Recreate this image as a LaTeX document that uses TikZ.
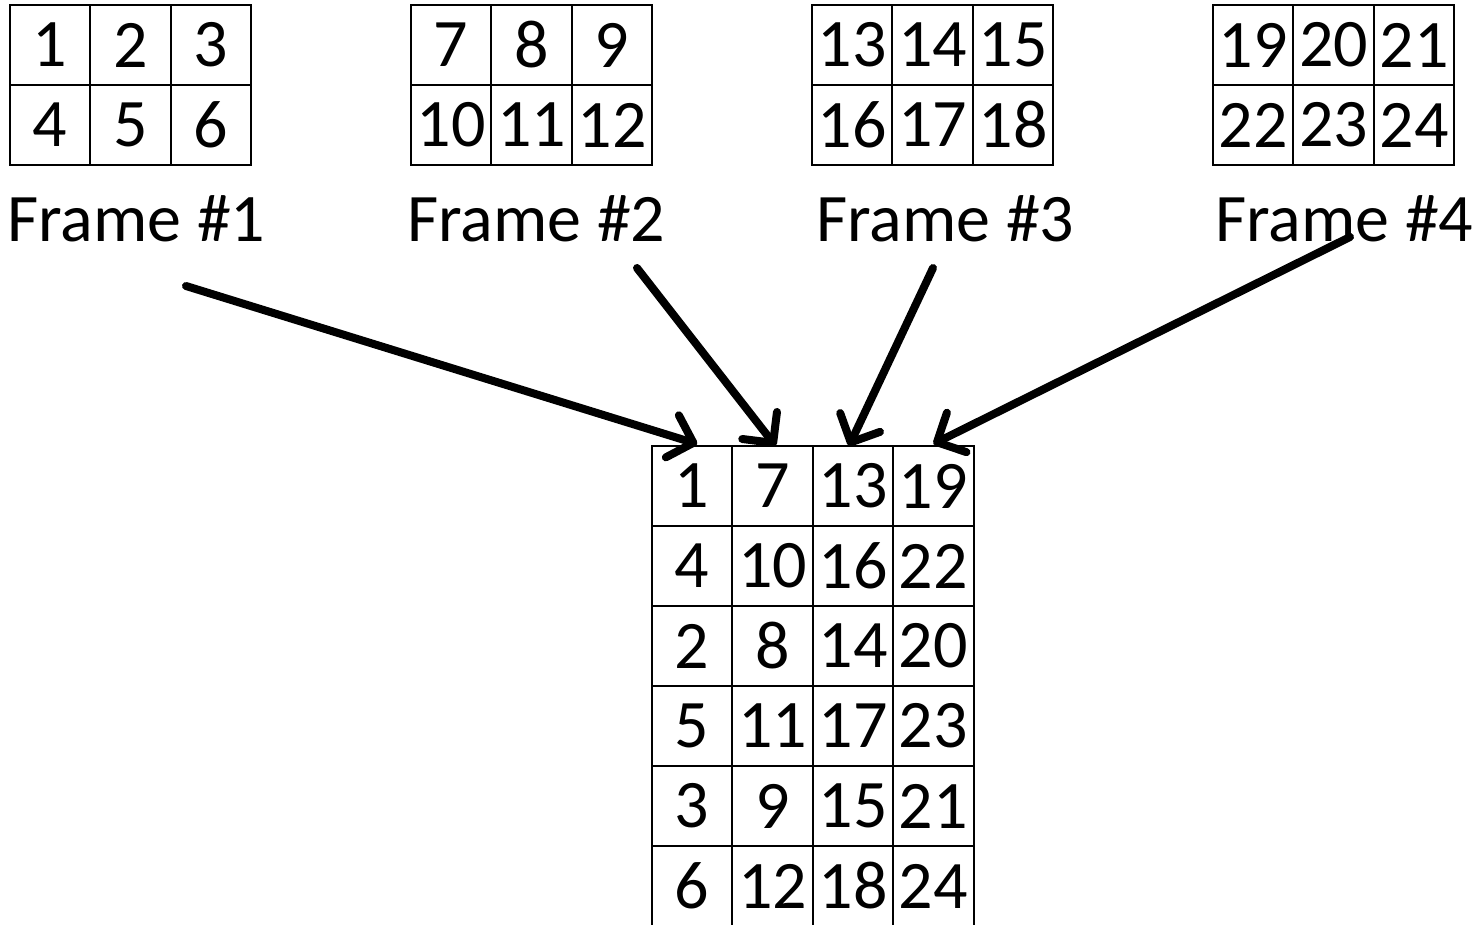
\documentclass[tikz,border=0pt]{standalone}
\usepackage{fontspec}
\setmainfont{Carlito}
\usetikzlibrary{arrows.meta}
\begin{document}
\begin{tikzpicture}[x=0.5pt,y=-0.5pt,
  cell/.style={draw=black,line width=1pt,minimum width=40.2pt,minimum height=40pt,inner sep=0pt,outer sep=0pt,font=\fontsize{34}{36}\selectfont},
  lbl/.style={anchor=base west,inner sep=0pt,font=\fontsize{34}{36}\selectfont},
  arr/.style={line width=4pt,line cap=round,-{Straight Barb[length=11pt,width=22pt,line cap=round,line join=round]}}]
\useasboundingbox (0,0) rectangle (1478,925);
% frames
\foreach \f/\x in {0/10,1/411,2/812,3/1213}{
  \foreach \r in {0,1}{
    \foreach \c in {0,1,2}{
      \pgfmathtruncatemacro{\n}{6*\f+3*\r+\c+1}
      \node[cell] (f\f-\r-\c) at ({\x+40.2+80.4*\c},{45+80*\r}) {\n};
    }
  }
}
\node[lbl] (l1) at (7,242) {Frame \#1};
\node[lbl] (l2) at (407,242) {Frame \#2};
\node[lbl] (l3) at (816,242) {Frame \#3};
\node[lbl] (l4) at (1215,242) {Frame \#4};
% bottom table
\foreach \r/\a/\b/\cc/\d in {0/1/7/13/19,1/4/10/16/22,2/2/8/14/20,3/5/11/17/23,4/3/9/15/21,5/6/12/18/24}{
  \node[cell] (b-\r-0) at ({652+40.2},{486+80*\r}) {\a};
  \node[cell] (b-\r-1) at ({652+40.2+80.4},{486+80*\r}) {\b};
  \node[cell] (b-\r-2) at ({652+40.2+160.8},{486+80*\r}) {\cc};
  \node[cell] (b-\r-3) at ({652+40.2+241.2},{486+80*\r}) {\d};
}
% arrows
\coordinate (s1) at (186,286);
\coordinate (s2) at (637,268);
\coordinate (s3) at (933,268);
\coordinate (s4) at (1350,237);
\draw[arr] (s1) -- ([xshift=2.5pt,yshift=1pt]b-0-0.north);
\draw[arr] (s2) -- ([xshift=1.5pt,yshift=0pt]b-0-1.north);
\draw[arr] (s3) -- ([xshift=-2pt,yshift=0pt]b-0-2.north);
\draw[arr] (s4) -- ([xshift=0pt,yshift=1pt]b-0-3.north);
\end{tikzpicture}
\end{document}
